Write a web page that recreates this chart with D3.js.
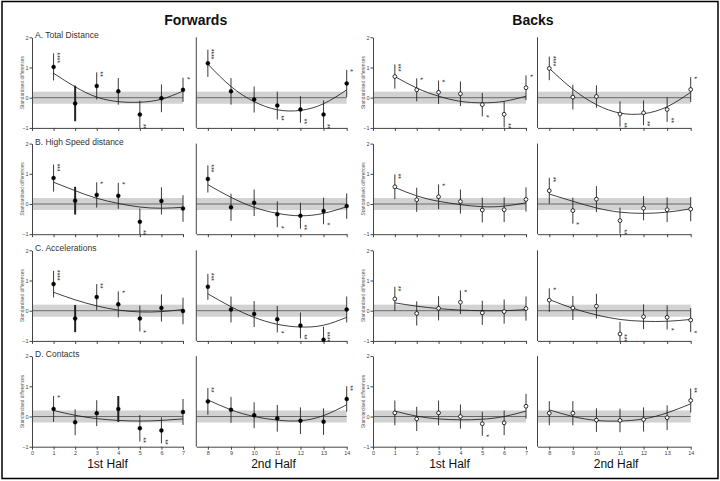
<!DOCTYPE html>
<html><head><meta charset="utf-8">
<script src="https://cdn.jsdelivr.net/npm/d3@7"></script>
<style>body{margin:0;background:#fff} svg{display:block;font-family:"Liberation Sans",Arial,sans-serif}</style>
</head><body><svg id="c" width="720" height="481"></svg>
<script>
// ---------- data ----------
const metrics = ["A. Total Distance", "B. High Speed distance", "C. Accelerations", "D. Contacts"];
const groups = ["Forwards", "Backs"];
const halves = ["1st Half", "2nd Half"];
const periods = [1, 2, 3, 4, 5, 6, 7, 8, 9, 10, 11, 12, 13, 14];
const xTicksH1 = [0, 1, 2, 3, 4, 5, 6, 7];
const xTicksH2 = [8, 9, 10, 11, 12, 13, 14];
const yTicks = [-1, 0, 1, 2];
const yTitle = "Standardised differences";

// Forwards
const fwdDistance    = [1.02, -0.19, 0.39, 0.21, -0.56, -0.02, 0.26, 1.14, 0.21, -0.06, -0.26, -0.39, -0.56, 0.47];
const fwdDistanceErr = [0.45, 0.59, 0.45, 0.44, 0.46, 0.46, 0.40, 0.45, 0.44, 0.43, 0.46, 0.44, 0.47, 0.45];
const fwdDistanceFit = [0.81, 0.36, 0.02, -0.13, -0.15, -0.05, 0.22, 1.11, 0.37, -0.13, -0.40, -0.42, -0.20, 0.26];
const fwdDistanceSig = ["****", "", "**", "", "**", "", "*", "****", "", "", "**", "**", "**", "*"];

const fwdHighSpeed    = [0.86, 0.11, 0.30, 0.27, -0.59, 0.10, -0.15, 0.83, -0.11, 0.04, -0.34, -0.39, -0.23, -0.07];
const fwdHighSpeedErr = [0.45, 0.46, 0.42, 0.43, 0.44, 0.45, 0.44, 0.45, 0.45, 0.44, 0.43, 0.43, 0.44, 0.42];
const fwdHighSpeedFit = [0.72, 0.44, 0.19, 0.02, -0.10, -0.14, -0.11, 0.64, 0.22, -0.11, -0.31, -0.39, -0.31, -0.09];
const fwdHighSpeedSig = ["***", "", "*", "*", "**", "", "", "***", "", "", "*", "**", "*", ""];

const fwdAccel    = [0.88, -0.26, 0.45, 0.21, -0.26, 0.09, -0.01, 0.79, 0.04, -0.11, -0.28, -0.49, -0.96, 0.04];
const fwdAccelErr = [0.44, 0.45, 0.43, 0.43, 0.43, 0.45, 0.44, 0.43, 0.43, 0.43, 0.44, 0.43, 0.43, 0.43];
const fwdAccelFit = [0.61, 0.36, 0.16, 0.02, -0.04, -0.03, 0.04, 0.56, 0.13, -0.22, -0.45, -0.54, -0.48, -0.22];
const fwdAccelSig = ["****", "", "**", "*", "*", "", "", "***", "", "", "*", "**", "****", ""];

const fwdContacts    = [0.25, -0.19, 0.11, 0.25, -0.39, -0.46, 0.15, 0.50, 0.22, 0.04, -0.06, -0.14, -0.17, 0.58];
const fwdContactsErr = [0.43, 0.43, 0.43, 0.43, 0.44, 0.43, 0.43, 0.44, 0.43, 0.43, 0.44, 0.44, 0.44, 0.42];
const fwdContactsFit = [0.20, 0.04, -0.07, -0.13, -0.15, -0.13, -0.08, 0.55, 0.22, 0.00, -0.12, -0.14, 0.03, 0.39];
const fwdContactsSig = ["*", "", "", "", "**", "**", "", "**", "", "", "", "", "", "**"];

// Backs
const bckDistance    = [0.70, 0.26, 0.18, 0.13, -0.23, -0.55, 0.33, 0.97, 0.02, 0.04, -0.54, -0.50, -0.39, 0.27];
const bckDistanceErr = [0.40, 0.38, 0.39, 0.41, 0.39, 0.43, 0.41, 0.39, 0.41, 0.37, 0.42, 0.41, 0.41, 0.41];
const bckDistanceFit = [0.70, 0.32, 0.05, -0.12, -0.17, -0.12, 0.05, 0.97, 0.28, -0.23, -0.51, -0.53, -0.30, 0.18];
const bckDistanceSig = ["***", "*", "*", "", "*", "**", "*", "****", "", "", "**", "**", "**", "*"];

const bckHighSpeed    = [0.57, 0.14, 0.24, 0.08, -0.20, -0.19, 0.15, 0.44, -0.22, 0.16, -0.55, -0.14, -0.19, -0.17];
const bckHighSpeedErr = [0.41, 0.40, 0.41, 0.40, 0.41, 0.41, 0.40, 0.43, 0.43, 0.43, 0.43, 0.40, 0.41, 0.40];
const bckHighSpeedFit = [0.55, 0.27, 0.09, -0.02, -0.09, -0.07, 0.04, 0.33, 0.09, -0.13, -0.27, -0.31, -0.27, -0.16];
const bckHighSpeedSig = ["**", "", "*", "", "", "", "", "**", "*", "", "**", "", "", ""];

const bckAccel    = [0.39, -0.09, 0.08, 0.28, -0.07, -0.03, 0.07, 0.35, 0.09, 0.15, -0.77, -0.20, -0.22, -0.31];
const bckAccelErr = [0.40, 0.40, 0.40, 0.39, 0.40, 0.40, 0.40, 0.39, 0.40, 0.41, 0.40, 0.41, 0.40, 0.40];
const bckAccelFit = [0.26, 0.15, 0.07, 0.02, 0.00, 0.00, 0.04, 0.37, 0.08, -0.14, -0.29, -0.35, -0.35, -0.29];
const bckAccelSig = ["**", "", "", "*", "", "", "", "*", "", "", "***", "", "*", "*"];

const bckContacts    = [0.12, -0.08, 0.12, 0.00, -0.24, -0.21, 0.34, 0.11, 0.11, -0.12, -0.13, -0.10, -0.04, 0.53];
const bckContactsErr = [0.41, 0.40, 0.41, 0.40, 0.40, 0.41, 0.41, 0.40, 0.40, 0.39, 0.39, 0.40, 0.41, 0.40];
const bckContactsFit = [0.18, 0.01, -0.08, -0.11, -0.09, 0.00, 0.18, 0.22, 0.00, -0.13, -0.15, -0.08, 0.12, 0.42];
const bckContactsSig = ["", "", "", "", "*", "", "", "", "", "", "", "", "", "**"];

// ---------- assemble ----------
const table = [
  [[fwdDistance, fwdDistanceErr, fwdDistanceFit, fwdDistanceSig], [bckDistance, bckDistanceErr, bckDistanceFit, bckDistanceSig]],
  [[fwdHighSpeed, fwdHighSpeedErr, fwdHighSpeedFit, fwdHighSpeedSig], [bckHighSpeed, bckHighSpeedErr, bckHighSpeedFit, bckHighSpeedSig]],
  [[fwdAccel, fwdAccelErr, fwdAccelFit, fwdAccelSig], [bckAccel, bckAccelErr, bckAccelFit, bckAccelSig]],
  [[fwdContacts, fwdContactsErr, fwdContactsFit, fwdContactsSig], [bckContacts, bckContactsErr, bckContactsFit, bckContactsSig]]
];
// heavier error bars in the Forwards panels (row -> period)
const heavyBar = {0: 2, 1: 2, 2: 2, 3: 4};

// ---------- layout ----------
const svg = d3.select("#c");
svg.append("rect").attr("x", 2).attr("y", 1.5).attr("width", 716).attr("height", 477)
  .attr("fill", "none").attr("stroke", "#000").attr("stroke-width", 1.5);

const rowZero = [97.7, 204, 310.7, 416.5];
const unit = 30.2;
const colRange = [[32, 183], [196.3, 346.7], [373, 526], [537.5, 690.7]];
const domains = [[0, 7], [7.5, 14]];

groups.forEach((g, gi) => {
  const cx = gi === 0 ? 195.7 : 533;
  svg.append("text").attr("x", cx).attr("y", 25).attr("text-anchor", "middle")
    .attr("font-size", 14).attr("font-weight", "bold").attr("fill", "#111").text(g);
});

metrics.forEach((m, r) => {
  const y = d3.scaleLinear().domain([-1, 2]).range([rowZero[r] + unit, rowZero[r] - 2 * unit]);
  groups.forEach((g, gi) => {
    const [vals, errs, fits, sigs] = table[r][gi];
    halves.forEach((hName, h) => {
      const c = gi * 2 + h;
      const x = d3.scaleLinear().domain(domains[h]).range(colRange[c]);
      const gp = svg.append("g");
      const x0 = x(domains[h][0]), x1 = x(h ? 14 : 7);
      // band
      gp.append("rect").attr("x", x0).attr("width", x1 - x0)
        .attr("y", y(0.2)).attr("height", y(-0.2) - y(0.2)).attr("fill", "#d2d2d2");
      gp.append("line").attr("x1", x0).attr("x2", x1).attr("y1", y(0)).attr("y2", y(0))
        .attr("stroke", "#6a6a6a").attr("stroke-width", 1);
      // x axis
      const xa = d3.axisBottom(x).tickValues(h ? xTicksH2 : xTicksH1).tickSize(3).tickSizeOuter(0)
        .tickFormat(r === 3 ? d3.format("d") : () => "");
      const gx = gp.append("g").attr("transform", `translate(0,${y(-1)})`).call(xa);
      gx.selectAll("path,line").attr("stroke", "#444");
      gx.selectAll("text").attr("font-size", 5.5).attr("fill", "#444").attr("dy", "0.5em")
        .attr("font-family", '"Liberation Sans",Arial,sans-serif');
      // y axis
      if (h === 0) {
        const ya = d3.axisLeft(y).tickValues(yTicks).tickSize(2.5).tickSizeOuter(0).tickFormat(d3.format("d"));
        const gy = gp.append("g").attr("transform", `translate(${x0},0)`).call(ya);
        gy.selectAll("path,line").attr("stroke", "#444");
        gy.selectAll("text").attr("font-size", 5.5).attr("fill", "#444").attr("x", -3.5)
          .attr("font-family", '"Liberation Sans",Arial,sans-serif');
        gp.append("text").attr("transform", `translate(${x0 - 8.5},${(y(2) + y(-1)) / 2}) rotate(-90)`)
          .attr("text-anchor", "middle").attr("font-size", 4.8).attr("fill", "#555").text(yTitle);
      } else {
        gp.append("line").attr("x1", x0).attr("x2", x0).attr("y1", y(2)).attr("y2", y(-1))
          .attr("stroke", "#444").attr("stroke-width", 1);
      }
      // title
      if (h === 0 && gi === 0) {
        gp.append("text").attr("x", x0 + 3).attr("y", y(2) + 1).attr("font-size", 8.5)
          .attr("fill", "#333").text(m);
      }
      // bottom labels
      if (r === 3) {
        gp.append("text").attr("x", (colRange[c][0] + colRange[c][1]) / 2 + (h ? 2 : 0)).attr("y", 467.5)
          .attr("text-anchor", "middle").attr("font-size", 12).attr("fill", "#111").text(hName);
      }
      const idx = d3.range(h * 7, h * 7 + 7);
      const clampY = v => y(Math.max(-1, Math.min(2, v)));
      // fit curve
      const line = d3.line().x(i => x(periods[i])).y(i => y(fits[i])).curve(d3.curveNatural);
      gp.append("path").attr("d", line(idx)).attr("fill", "none").attr("stroke", "#111").attr("stroke-width", 0.8);
      // error bars
      gp.selectAll(null).data(idx).join("line")
        .attr("x1", i => x(periods[i])).attr("x2", i => x(periods[i]))
        .attr("y1", i => clampY(vals[i] + errs[i])).attr("y2", i => clampY(vals[i] - errs[i]))
        .attr("stroke", "#222")
        .attr("stroke-width", i => (gi === 0 && heavyBar[r] === periods[i]) ? 2 : 0.9);
      // points
      gp.selectAll(null).data(idx).join("circle")
        .attr("cx", i => x(periods[i])).attr("cy", i => y(vals[i])).attr("r", gi === 0 ? 2 : 1.9)
        .attr("fill", gi === 0 ? "#000" : "#fff").attr("stroke", "#000").attr("stroke-width", gi === 0 ? 0.4 : 0.8);
      // significance stars
      gp.selectAll(null).data(idx.filter(i => sigs[i])).join("text")
        .attr("transform", i => {
          const yy = vals[i] >= 0 ? clampY(vals[i] + errs[i]) : clampY(vals[i] - errs[i]);
          return `translate(${x(periods[i]) + 1.6},${yy + (vals[i] >= 0 ? -1 : 1)}) rotate(90)`;
        })
        .attr("text-anchor", i => vals[i] >= 0 ? "start" : "end")
        .attr("font-size", 7.5).attr("fill", "#222").attr("letter-spacing", -0.3)
        .text(i => sigs[i]);
    });
  });
});
</script></body></html>
